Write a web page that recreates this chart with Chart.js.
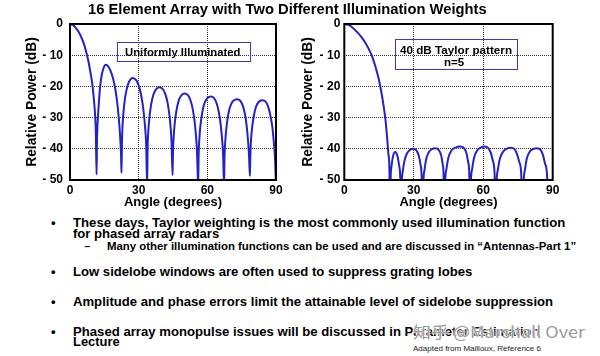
<!DOCTYPE html>
<html>
<head>
<meta charset="utf-8">
<script src="https://cdn.jsdelivr.net/npm/chart.js@4.4.0/dist/chart.umd.min.js"></script>
<style>
html,body{margin:0;padding:0;background:#fff;}
#page{position:relative;width:600px;height:356px;overflow:hidden;background:#fff;font-family:"Liberation Sans",Arial,Helvetica,sans-serif;color:#000;}
.cb{position:absolute;}
.t{position:absolute;white-space:nowrap;transform-origin:0 50%;font-weight:bold;}
.box{position:absolute;border:1px solid #3a3ab4;box-sizing:border-box;}
</style>
</head>
<body>
<div id="page">
  <div class="cb" style="left:0;top:0;width:300px;height:215px;"><canvas id="c1"></canvas></div>
  <div class="cb" style="left:300px;top:0;width:300px;height:215px;"><canvas id="c2"></canvas></div>

  <div class="box" style="left:116.5px;top:41.5px;width:134px;height:20px;"></div>
  <div class="box" style="left:395px;top:39px;width:123px;height:31px;"></div>

  <div class="t" data-cx="287" data-cy="8.5" data-w="399" style="font-size:15px;">16 Element Array with Two Different Illumination Weights</div>
  <div class="t" data-x="125" data-cy="52" data-w="115" style="font-size:11px;">Uniformly Illuminated</div>
  <div class="t" data-cx="455.8" data-cy="50.7" data-w="111.7" style="font-size:11.5px;">40 dB Taylor pattern</div>
  <div class="t" data-cx="454" data-cy="63.3" style="font-size:11.5px;"><span style="text-decoration:overline;">n</span>=5</div>

  <div class="t" data-cx="53.5" data-cy="222.3" style="font-size:13px;">•</div>
  <div class="t" data-x="73.3" data-cy="222.3" data-w="492.7" style="font-size:13px;">These days, Taylor weighting is the most commonly used illumination function</div>
  <div class="t" data-x="73.3" data-cy="233.3" data-w="146" style="font-size:13px;">for phased array radars</div>
  <div class="t" data-cx="87.5" data-cy="247.3" style="font-size:10px;">–</div>
  <div class="t" data-x="107.3" data-cy="247.3" data-w="469.4" style="font-size:10px;">Many other illumination functions can be used and are discussed in “Antennas-Part 1”</div>

  <div class="t" data-cx="53.5" data-cy="271.7" style="font-size:13px;">•</div>
  <div class="t" data-x="73.3" data-cy="271.7" data-w="399.4" style="font-size:13px;">Low sidelobe windows are often used to suppress grating lobes</div>

  <div class="t" data-cx="53.5" data-cy="301.7" style="font-size:13px;">•</div>
  <div class="t" data-x="73.3" data-cy="301.7" data-w="480" style="font-size:13px;">Amplitude and phase errors limit the attainable level of sidelobe suppression</div>

  <div class="t" data-cx="53.5" data-cy="331.7" style="font-size:13px;">•</div>
  <div class="t" data-x="73.3" data-cy="331.7" data-w="467" style="font-size:13px;">Phased array monopulse issues will be discussed in Parameter Estimation</div>
  <div class="t" data-x="73.3" data-cy="341.7" data-w="46.7" style="font-size:13px;">Lecture</div>

  <div class="t" data-x="413.3" data-cy="349" data-w="128.4" style="font-size:8px;font-weight:normal;color:#222;">Adapted from Mailloux, Reference 6</div>
  <div class="t" data-x="413" data-cy="331" data-w="172" style="font-size:16px;font-weight:normal;color:#9a9a9a;font-family:'Noto Sans CJK SC','Noto Sans',sans-serif;text-shadow:0 0 1px #fff,0 0 2px #fff,0 0 2px #fff;">知乎 @Marshall Over</div>
</div>

<script>
// ---------- data ----------
const angleTicks = [0, 30, 60, 90];
const xTickLabels = ['0', '30', '60', '90'];
const dbTicks = [-50, -40, -30, -20, -10, 0];
const yTickLabels = ['- 50', '- 40', '- 30', '- 20', '- 10', '0'];

// Uniformly illuminated pattern (angle in degrees, relative power in dB)
const uniformAngle = [
  0, 1.2, 2.6, 3.8, 4.8, 6, 7, 8, 8.7, 9.4, 9.9, 10.4, 10.9, 11.3, 11.6,
  11.8, 12.2, 12.6, 13.1, 13.7, 14.5, 15.6, 16.6, 17.6, 18.6, 19.4, 20.0, 20.6, 21.3, 21.9, 22.3, 22.5,
  22.7, 23.0, 23.4, 24.0, 24.8, 25.8, 27.4, 28.9, 29.9, 30.8, 31.6, 32.3, 32.9, 33.3, 33.7,
  33.9, 34.2, 34.7, 35.4, 36.3, 37.4, 39.1, 40.7, 41.8, 42.7, 43.4, 44.0, 44.4, 44.8,
  45.0, 45.3, 45.8, 46.5, 47.4, 48.5, 50.0, 51.6, 52.7, 53.6, 54.4, 55.0, 55.5, 56.0,
  56.2, 56.5, 57.0, 57.7, 58.6, 59.8, 61.4, 63.0, 64.1, 65.0, 65.8, 66.4, 66.9, 67.3,
  67.5, 67.8, 68.3, 69.0, 69.9, 71.1, 72.9, 74.5, 75.6, 76.5, 77.2, 77.8, 78.2, 78.6,
  78.8, 79.1, 79.6, 80.3, 81.2, 82.4, 84.0, 85.6, 86.7, 87.6, 88.4, 89.0, 89.5, 90
];
const uniformDb = [
  0, -0.3, -1.3, -2.6, -4.0, -6.2, -8.7, -11.8, -14.5, -17.5, -20.2, -23.8, -28.5, -35, -48.2,
  -37, -30, -25.5, -20.5, -17, -14.5, -13.1, -13.5, -14.8, -16.9, -19.3, -21.8, -25, -30, -36, -42, -47.7,
  -38, -32, -28, -24, -20.8, -18.5, -17.3, -18, -19.5, -21.8, -25, -29, -34, -39, -52,
  -40, -34.5, -30, -26, -23, -21.1, -20.3, -21, -22.8, -25.5, -29, -33.5, -38.5, -48.4,
  -41, -36, -31.5, -27.8, -24.8, -23, -22.3, -22.9, -24.6, -27.2, -31, -35.5, -41, -52,
  -42, -37, -32.5, -28.7, -25.7, -23.9, -23.2, -23.8, -25.5, -28.2, -32, -36.5, -42, -52,
  -43, -38, -33.5, -29.6, -26.6, -24.8, -24.1, -24.7, -26.4, -29.1, -32.8, -37.5, -42, -48.7,
  -42, -37, -33, -29.5, -26.7, -25, -24.4, -25, -26.8, -29.5, -33, -37.5, -42, -52
];

// 40 dB Taylor pattern, n-bar = 5
const taylorAngle = [
  0, 1.5, 3, 4.5, 6, 7.5, 9, 10.5, 12, 13, 14, 15, 16, 17, 17.8, 18.5, 19.1, 19.5, 19.7,
  20.0, 20.4, 21.0, 22.0, 23.0, 23.7, 24.2, 24.5,
  24.8, 25.3, 26.0, 27.0, 28.3, 29.8, 31.2, 32.2, 32.9, 33.4, 33.8,
  34.1, 34.6, 35.3, 36.4, 37.8, 39.4, 40.8, 41.8, 42.5, 42.9, 43.2,
  43.5, 44.1, 44.9, 46.2, 48.0, 50.0, 51.7, 52.8, 53.5, 54.0, 54.3,
  54.6, 55.2, 56.0, 57.3, 58.9, 60.5, 62.1, 63.3, 64.2, 64.9, 65.4,
  65.7, 66.3, 67.2, 68.5, 70.1, 71.9, 73.5, 74.6, 75.6, 76.4, 77.1,
  77.4, 78.0, 78.8, 80.0, 81.6, 83.2, 84.7, 85.8, 86.7, 87.6, 88.2
];
const taylorDb = [
  0, -0.2, -0.8, -1.8, -2.9, -4.3, -5.9, -7.9, -10.4, -12.6, -15.1, -18, -21.8, -26.4, -30.8, -36.5, -42, -47, -70,
  -50, -45.5, -42.5, -41.0, -42.5, -45.5, -50, -70,
  -52, -47, -43.8, -41.6, -40.4, -40.0, -40.6, -42.3, -45, -49, -70,
  -52, -47, -43.5, -41.2, -40.1, -39.8, -40.4, -42, -45, -49, -70,
  -52, -46.5, -43, -40.6, -39.6, -39.3, -39.8, -41.5, -44.3, -48.5, -70,
  -52, -46.5, -43, -40.6, -39.6, -39.3, -39.7, -41.3, -44, -48, -70,
  -52, -46.8, -43.2, -41, -40, -39.7, -40.1, -41.7, -44.3, -48, -70,
  -52, -46.8, -43.2, -41, -40, -39.8, -40.3, -42, -44.8, -49, -70
];

// ---------- chart ----------
const BLUE = '#2222c6';
Chart.defaults.font.family = "'Liberation Sans', Arial, Helvetica, sans-serif";
Chart.defaults.color = '#000';

const framePlugin = {
  id: 'frame',
  afterDraw(chart) {
    const {ctx, chartArea: a} = chart;
    ctx.save();
    ctx.strokeStyle = '#000';
    ctx.lineWidth = 2;
    ctx.strokeRect(a.left, a.top, a.right - a.left, a.bottom - a.top);
    ctx.restore();
  }
};

function zip(xs, ys) { return xs.map((x, i) => ({x: x, y: ys[i]})); }

function build(id, xs, ys, o) {
  return new Chart(document.getElementById(id), {
    type: 'line',
    data: { datasets: [{
      data: zip(xs, ys), borderColor: BLUE, borderWidth: 2, pointRadius: 0,
      fill: false, cubicInterpolationMode: 'monotone'
    }]},
    options: {
      responsive: true, maintainAspectRatio: false, animation: false,
      devicePixelRatio: 1,
      layout: { padding: { left: 0, right: o.padRight, top: 24, bottom: 0 } },
      plugins: { legend: { display: false }, tooltip: { enabled: false } },
      scales: {
        x: {
          type: 'linear', min: 0, max: 90,
          afterBuildTicks: s => { s.ticks = angleTicks.map(v => ({value: v})); },
          afterFit: s => { s.height = 35; },
          ticks: { callback: v => xTickLabels[angleTicks.indexOf(v)], font: {size: 12, weight: 'bold'}, color: '#000', padding: 3, maxRotation: 0, autoSkip: false },
          grid: { color: '#333', lineWidth: 1, drawTicks: false, borderDash: [1, 1] },
          border: { display: false, dash: [1, 1] },
          title: { display: true, text: 'Angle (degrees)', font: {size: 13, weight: 'bold'}, color: '#000', padding: {top: 0, bottom: 5} }
        },
        y: {
          type: 'linear', min: -50, max: 0,
          afterBuildTicks: s => { s.ticks = dbTicks.map(v => ({value: v})); },
          afterFit: s => { s.width = o.yWidth; },
          ticks: { callback: v => yTickLabels[dbTicks.indexOf(v)], font: {size: 12, weight: 'bold'}, color: '#000', padding: o.tickPad, autoSkip: false },
          grid: { color: '#333', lineWidth: 1, drawTicks: false, borderDash: [1, 1] },
          border: { display: false, dash: [1, 1] },
          title: { display: true, text: 'Relative Power (dB)', font: {size: 13.8, weight: 'bold'}, color: '#000', padding: {top: o.titlePad, bottom: 0} }
        }
      }
    },
    plugins: [framePlugin]
  });
}

build('c1', uniformAngle, uniformDb, {padRight: 24, yWidth: 70, tickPad: 7, titlePad: 23.5});
build('c2', taylorAngle, taylorDb, {padRight: 47.3, yWidth: 44.3, tickPad: 4, titlePad: 0});

// ---------- text placement ----------
function fit() {
  document.querySelectorAll('.t').forEach(el => {
    el.style.transform = 'none';
    const w = el.offsetWidth, h = el.offsetHeight;
    const fs = parseFloat(el.style.fontSize);
    el.style.lineHeight = fs + 'px';
    const hh = el.offsetHeight;
    const tw = el.dataset.w ? parseFloat(el.dataset.w) : w;
    const sx = tw / w;
    let left;
    if (el.dataset.cx) left = parseFloat(el.dataset.cx) - tw / 2;
    else left = parseFloat(el.dataset.x);
    el.style.left = left + 'px';
    el.style.top = (parseFloat(el.dataset.cy) - hh / 2) + 'px';
    el.style.transform = 'scaleX(' + sx + ')';
  });
}
fit();
if (document.fonts && document.fonts.ready) document.fonts.ready.then(fit);
</script>
</body>
</html>
